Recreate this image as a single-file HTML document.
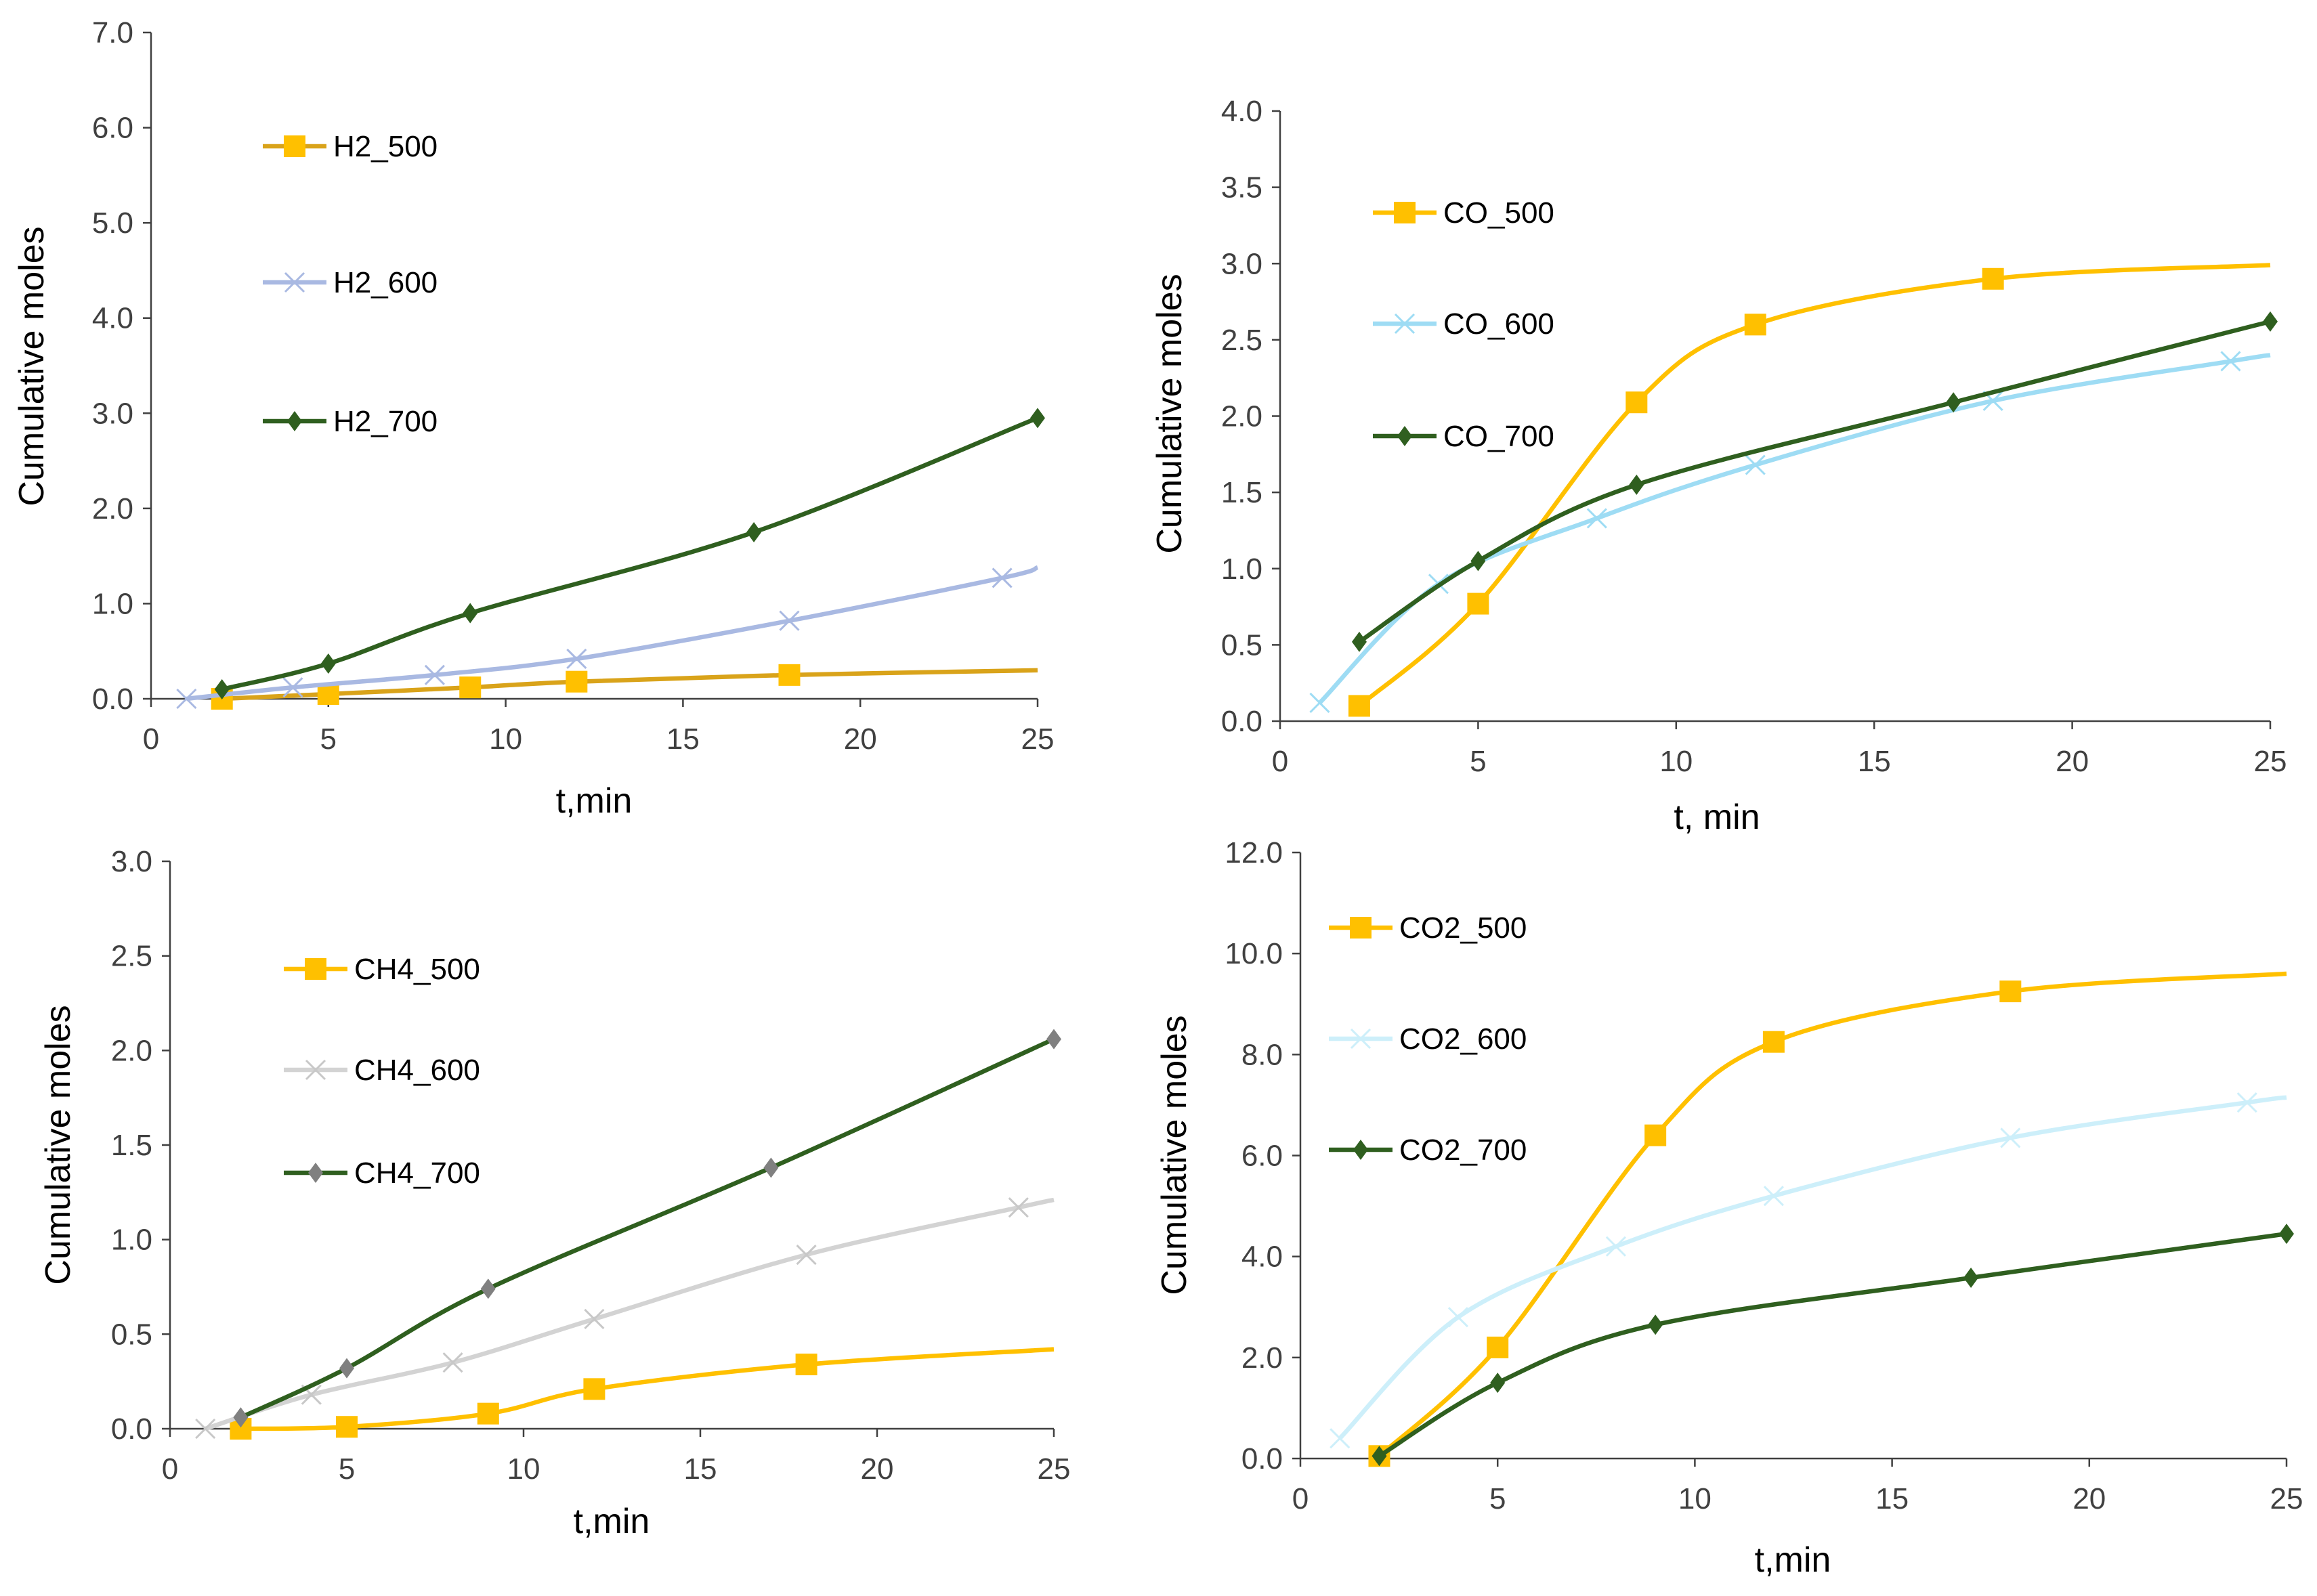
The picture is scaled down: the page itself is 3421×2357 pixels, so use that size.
<!DOCTYPE html>
<html><head><meta charset="utf-8">
<style>
html,body{margin:0;padding:0;background:#fff;}
svg{display:block;font-family:"Liberation Sans",sans-serif;}
</style></head>
<body>
<svg id="fig" width="3421" height="2357" viewBox="0 0 3421 2357" xmlns="http://www.w3.org/2000/svg"></svg>
<script>
// ---- data ----
const h2T500=[2,5,9,12,18,25], h2V500=[0,0.05,0.12,0.18,0.25,0.3];
const h2T600=[1,4,8,12,18,24,25], h2V600=[0,0.12,0.25,0.42,0.82,1.27,1.38];
const h2T700=[2,5,9,17,25], h2V700=[0.1,0.37,0.9,1.75,2.95];
const coT500=[2,5,9,12,18,25], coV500=[0.1,0.77,2.09,2.6,2.9,2.99];
const coT600=[1,4,8,12,18,24,25], coV600=[0.12,0.9,1.33,1.68,2.1,2.36,2.4];
const coT700=[2,5,9,17,25], coV700=[0.52,1.05,1.55,2.09,2.62];
const ch4T500=[2,5,9,12,18,25], ch4V500=[0,0.01,0.08,0.21,0.34,0.42];
const ch4T600=[1,4,8,12,18,24,25], ch4V600=[0,0.18,0.35,0.58,0.92,1.17,1.21];
const ch4T700=[2,5,9,17,25], ch4V700=[0.06,0.32,0.74,1.38,2.06];
const co2T500=[2,5,9,12,18,25], co2V500=[0.05,2.2,6.4,8.25,9.25,9.6];
const co2T600=[1,4,8,12,18,24,25], co2V600=[0.4,2.8,4.2,5.2,6.35,7.05,7.15];
const co2T700=[2,5,9,17,25], co2V700=[0.05,1.5,2.65,3.58,4.45];
const xTicks=[0,5,10,15,20,25];
const h2YTicks=[0,1,2,3,4,5,6,7];
const coYTicks=[0,0.5,1,1.5,2,2.5,3,3.5,4];
const ch4YTicks=[0,0.5,1,1.5,2,2.5,3];
const co2YTicks=[0,2,4,6,8,10,12];

const NS="http://www.w3.org/2000/svg";
const svg=document.getElementById('fig');
function mk(tag,attrs,parent){const e=document.createElementNS(NS,tag);for(const k in attrs)e.setAttribute(k,attrs[k]);(parent||svg).appendChild(e);return e;}

function smoothPath(pts){
  let d="M"+pts[0][0]+","+pts[0][1];
  for(let i=0;i<pts.length-1;i++){
    const p0=pts[i-1]||pts[i],p1=pts[i],p2=pts[i+1],p3=pts[i+2]||p2;
    const t=1/6;
    const c1=[p1[0]+(p2[0]-p0[0])*t,p1[1]+(p2[1]-p0[1])*t];
    const c2=[p2[0]-(p3[0]-p1[0])*t,p2[1]-(p3[1]-p1[1])*t];
    d+=" C"+c1[0]+","+c1[1]+" "+c2[0]+","+c2[1]+" "+p2[0]+","+p2[1];
  }
  return d;
}
function marker(g,type,x,y,col,mcol){
  let m;
  if(type==='sq'){m=mk('rect',{x:x-16,y:y-16,width:32,height:32,fill:mcol},g);}
  else if(type==='x'){m=mk('path',{d:`M${x-14},${y-14}L${x+14},${y+14}M${x-14},${y+14}L${x+14},${y-14}`,stroke:mcol,'stroke-width':3,fill:'none'},g);}
  else {m=mk('path',{d:`M${x},${y-15}L${x+11},${y}L${x},${y+15}L${x-11},${y}Z`,fill:mcol},g);}
  return m;
}

function panel(cfg){
  const g=mk('g',{});
  
  
  const X=v=>cfg.x0+(cfg.x1-cfg.x0)*v/25;
  const Y=v=>cfg.y0+(cfg.yTop-cfg.y0)*v/cfg.yMax;
  const ax=mk('path',{d:`M${cfg.x0},${cfg.yTop}V${cfg.y0}H${cfg.x1}`,stroke:'#404040','stroke-width':2.5,fill:'none'},g);
  
  
  cfg.yTicks.forEach(v=>{
    mk('line',{x1:cfg.x0-12,x2:cfg.x0,y1:Y(v),y2:Y(v),stroke:'#404040','stroke-width':2.5},g);
    const t=mk('text',{x:cfg.x0-26,y:Y(v)+15,'text-anchor':'end','font-size':44,fill:'#404040'},g);
    t.textContent=v.toFixed(1);
    
    
  });
  xTicks.forEach(v=>{
    mk('line',{x1:X(v),x2:X(v),y1:cfg.y0,y2:cfg.y0+12,stroke:'#404040','stroke-width':2.5},g);
    const t=mk('text',{x:X(v),y:cfg.y0+74,'text-anchor':'middle','font-size':44,fill:'#404040'},g);
    t.textContent=v;
    
    
  });
  const yt=mk('text',{x:0,y:0,transform:`translate(${cfg.ytx},${cfg.yty}) rotate(-90)`,'text-anchor':'middle','font-size':52,fill:'#000'},g);
  yt.textContent='Cumulative moles';
  
  
  const xt=mk('text',{x:cfg.xtx,y:cfg.xty,'text-anchor':'middle','font-size':52,fill:'#000'},g);
  xt.textContent=cfg.xtitle;
  
  
  cfg.series.forEach((s,i)=>{
    const sg=mk('g',{},g);
    
    
    const pts=s.t.map((t,j)=>[X(t),Y(s.v[j])]);
    mk('path',{d:smoothPath(pts),stroke:s.col,'stroke-width':6.5,fill:'none'},sg);
    s.t.forEach((t,j)=>{
      if(t===25 && s.type!=='dia') return;
      const m=marker(sg,s.type,X(t),Y(s.v[j]),s.col,s.mcol);
      
      
    });
    const ly=cfg.legY[i];
    const lg=mk('g',{},g);
    
    
    mk('line',{x1:cfg.legX,x2:cfg.legX+94,y1:ly,y2:ly,stroke:s.col,'stroke-width':6.5},lg);
    marker(lg,s.type,cfg.legX+47,ly,s.col,s.mcol);
    const lt=mk('text',{x:cfg.legX+104,y:ly+15,'font-size':44,fill:'#000'},lg);
    lt.textContent=s.label;
  });
}

const Y5='#FFC000',G7='#2F5F1F';
panel({name:'h2-chart',x0:223,x1:1532,y0:1032,yTop:48,yMax:7,yTicks:h2YTicks,
  ytx:64,yty:541,xtx:877,xty:1200,xtitle:'t,min',legX:388,legY:[216,417,622],
  series:[{label:'H2_500',t:h2T500,v:h2V500,col:'#D9A31A',mcol:Y5,type:'sq'},
          {label:'H2_600',t:h2T600,v:h2V600,col:'#A9B9E2',mcol:'#A9B9E2',type:'x'},
          {label:'H2_700',t:h2T700,v:h2V700,col:G7,mcol:G7,type:'dia'}]});
panel({name:'co-chart',x0:1890,x1:3352,y0:1065,yTop:164,yMax:4,yTicks:coYTicks,
  ytx:1744,yty:611,xtx:2535,xty:1224,xtitle:'t, min',legX:2027,legY:[314,478,644],
  series:[{label:'CO_500',t:coT500,v:coV500,col:Y5,mcol:Y5,type:'sq'},
          {label:'CO_600',t:coT600,v:coV600,col:'#9EDCF4',mcol:'#9EDCF4',type:'x'},
          {label:'CO_700',t:coT700,v:coV700,col:G7,mcol:G7,type:'dia'}]});
panel({name:'ch4-chart',x0:251,x1:1556,y0:2110,yTop:1272,yMax:3,yTicks:ch4YTicks,
  ytx:103,yty:1691,xtx:903,xty:2264,xtitle:'t,min',legX:419,legY:[1431,1580,1732],
  series:[{label:'CH4_500',t:ch4T500,v:ch4V500,col:Y5,mcol:Y5,type:'sq'},
          {label:'CH4_600',t:ch4T600,v:ch4V600,col:'#D3D3D3',mcol:'#C8C8C8',type:'x'},
          {label:'CH4_700',t:ch4T700,v:ch4V700,col:G7,mcol:'#808080',type:'dia'}]});
panel({name:'co2-chart',x0:1920,x1:3376,y0:2154,yTop:1259,yMax:12,yTicks:co2YTicks,
  ytx:1751,yty:1706,xtx:2647,xty:2321,xtitle:'t,min',legX:1962,legY:[1370,1534,1698],
  series:[{label:'CO2_500',t:co2T500,v:co2V500,col:Y5,mcol:Y5,type:'sq'},
          {label:'CO2_600',t:co2T600,v:co2V600,col:'#CDEFFA',mcol:'#CDEFFA',type:'x'},
          {label:'CO2_700',t:co2T700,v:co2V700,col:G7,mcol:G7,type:'dia'}]});
</script>
</body></html>
